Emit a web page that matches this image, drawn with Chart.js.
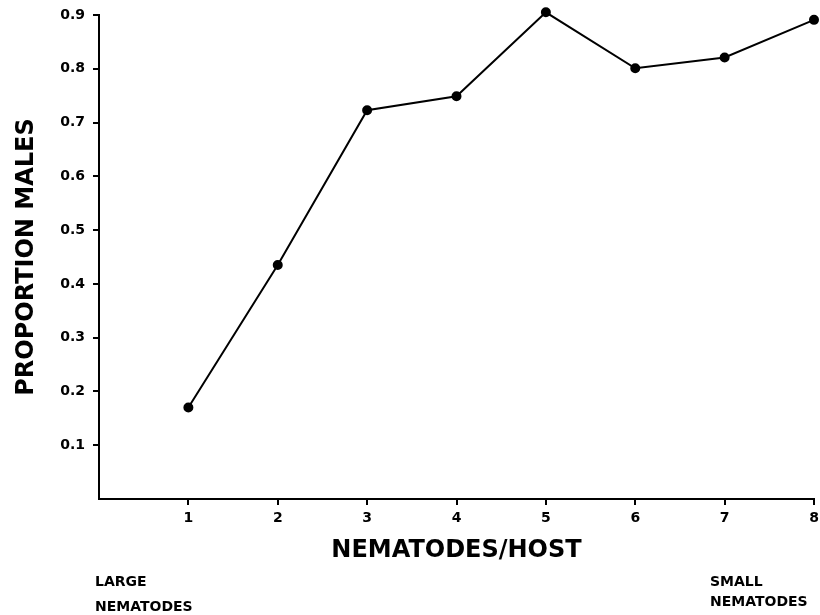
<!DOCTYPE html>
<html>
<head>
<meta charset="utf-8">
<script src="https://cdn.jsdelivr.net/npm/chart.js@4/dist/chart.umd.min.js"></script>
<style>
  html, body { margin: 0; padding: 0; background: #fff; }
  canvas { display: block; }
</style>
</head>
<body>
<canvas id="nematodeChart" width="820" height="615"></canvas>
<script>
// values
const nematodesPerHost = [1, 2, 3, 4, 5, 6, 7, 8];
const proportionMales = [0.17, 0.435, 0.723, 0.749, 0.905, 0.801, 0.821, 0.891];
const yTicks = [0.1, 0.2, 0.3, 0.4, 0.5, 0.6, 0.7, 0.8, 0.9];
const xTicks = [1, 2, 3, 4, 5, 6, 7, 8];

const FONT = "'DejaVu Sans', sans-serif";

const points = nematodesPerHost.map((x, i) => ({ x: x, y: proportionMales[i] }));

// the two little notes under the x axis
const cornerNotes = {
  id: 'cornerNotes',
  afterDraw(chart) {
    const c = chart.ctx;
    c.save();
    c.fillStyle = '#000';
    c.font = 'bold 14px ' + FONT;
    c.textBaseline = 'middle';
    c.textAlign = 'left';
    c.fillText('LARGE', 95, 582);
    c.fillText('NEMATODES', 95, 607);
    c.fillText('SMALL', 710, 582);
    c.fillText('NEMATODES', 710, 602);
    c.restore();
  }
};

new Chart(document.getElementById('nematodeChart').getContext('2d'), {
  type: 'scatter',
  data: {
    datasets: [{
      data: points,
      showLine: true,
      borderColor: '#000',
      borderWidth: 2,
      backgroundColor: '#000',
      pointBackgroundColor: '#000',
      pointBorderColor: '#000',
      pointRadius: 4,
      pointHoverRadius: 4,
      tension: 0,
      clip: false
    }]
  },
  options: {
    responsive: false,
    animation: false,
    events: [],
    layout: { padding: { top: 15, right: 6, bottom: 50, left: 0 } },
    plugins: {
      legend: { display: false },
      tooltip: { enabled: false }
    },
    scales: {
      x: {
        type: 'linear',
        min: 0,
        max: 8,
        afterFit(scale) {
          scale.height = 66;
          scale.paddingLeft = 0;
          scale.paddingRight = 0;
        },
        afterBuildTicks(scale) {
          scale.ticks = [0].concat(xTicks).map(v => ({ value: v }));
        },
        border: { display: true, color: '#000', width: 2 },
        grid: {
          drawOnChartArea: false,
          drawTicks: true,
          tickLength: 6,
          lineWidth: 2,
          color: ctx => (ctx.tick && ctx.tick.value === 0) ? 'rgba(0,0,0,0)' : '#000'
        },
        ticks: {
          padding: 5,
          color: '#000',
          font: { family: FONT, size: 14, weight: 'bold' },
          callback: v => v === 0 ? '' : String(v)
        },
        title: {
          display: true,
          text: 'NEMATODES/HOST',
          color: '#000',
          font: { family: FONT, size: 24, weight: 'bold' },
          padding: { top: 4, bottom: 0 }
        }
      },
      y: {
        min: 0,
        max: 0.9,
        afterFit(scale) {
          scale.width = 99;
          scale.paddingTop = 0;
          scale.paddingBottom = 0;
        },
        afterBuildTicks(scale) {
          scale.ticks = [0].concat(yTicks).map(v => ({ value: v }));
        },
        border: { display: true, color: '#000', width: 2 },
        grid: {
          drawOnChartArea: false,
          drawTicks: true,
          tickLength: 6,
          lineWidth: 2,
          color: ctx => (ctx.tick && ctx.tick.value === 0) ? 'rgba(0,0,0,0)' : '#000'
        },
        ticks: {
          padding: 8,
          color: '#000',
          font: { family: FONT, size: 14, weight: 'bold' },
          callback: v => v === 0 ? '' : v.toFixed(1)
        },
        title: {
          display: true,
          text: 'PROPORTION MALES',
          color: '#000',
          font: { family: FONT, size: 24, weight: 'bold' },
          padding: { top: 12, bottom: 0 }
        }
      }
    }
  },
  plugins: [cornerNotes]
});
</script>
</body>
</html>
